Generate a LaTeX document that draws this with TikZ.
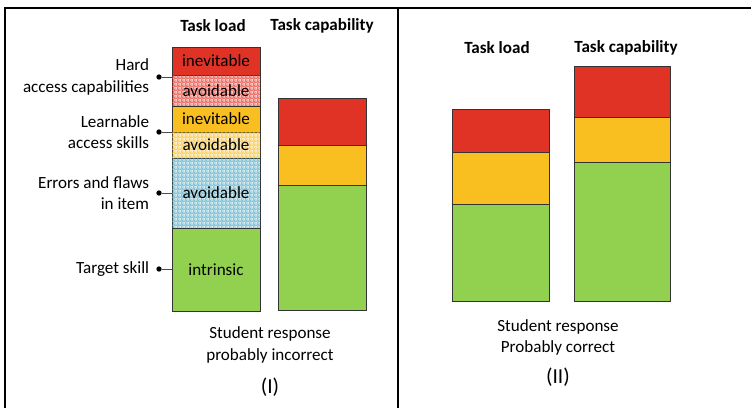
\documentclass[tikz,border=0pt]{standalone}
\usepackage{fontspec}
\setmainfont{Carlito}
\usetikzlibrary{patterns,positioning}

\definecolor{capred}{HTML}{E03326}
\definecolor{caporange}{HTML}{F9BE20}
\definecolor{capgreen}{HTML}{92D050}
\definecolor{capteal}{HTML}{4BACC6}

% small square grid, like the office fill pattern
\pgfdeclarepatternformonly{smallgrid}{\pgfqpoint{0pt}{0pt}}{\pgfqpoint{3.2pt}{3.2pt}}{\pgfqpoint{3.2pt}{3.2pt}}{
  \pgfsetlinewidth{0.4pt}
  \pgfpathrectangle{\pgfqpoint{0.2pt}{0.2pt}}{\pgfqpoint{2.8pt}{2.8pt}}
  \pgfusepath{stroke}
  \pgfpathrectangle{\pgfqpoint{1.1pt}{1.1pt}}{\pgfqpoint{1pt}{1pt}}
  \pgfusepath{fill}
}

\begin{document}
\begin{tikzpicture}[x=0.75pt, y=-0.75pt, every node/.style={font=\fontsize{12.8}{16}\selectfont}]
    \useasboundingbox (0,0) rectangle (751,408);

    \tikzstyle{seg} = [draw=black!80, line width=0.6pt, anchor=north west, inner sep=0pt, outer sep=0pt, minimum width=66pt]
    \tikzstyle{head} = [font=\fontsize{12.8}{16}\selectfont\bfseries]
    \tikzstyle{dot} = [circle, fill=black, inner sep=0pt, minimum size=4pt]
    \tikzstyle{lab} = [align=right, inner sep=0pt, left=5pt of #1]
    \tikzstyle{roman} = [font=\fontsize{16}{18}\selectfont]
    \tikzset{avoid/.style={seg, fill=#1!8, postaction={pattern=smallgrid, pattern color=#1}}}

    % frame
    \draw[line width=1.5pt] (5,408) -- (5,7.5) -- (751,7.5);
    \draw[line width=1.5pt] (398,7.5) -- (398,408);

    % (I) task load
    \node[head] (load1) at (213,26) {Task load};
    \node[seg, fill=capred, minimum height=21pt] (l1) at (172,47) {inevitable};
    \node[avoid=capred, minimum height=23.25pt] (l2) at (l1.south west) {avoidable};
    \node[seg, fill=caporange, minimum height=19.5pt] (l3) at (l2.south west) {inevitable};
    \node[avoid=caporange, minimum height=19.5pt] (l4) at (l3.south west) {avoidable};
    \node[avoid=capteal, minimum height=52.5pt] (l5) at (l4.south west) {avoidable};
    \node[seg, fill=capgreen, minimum height=62.25pt] (l6) at (l5.south west) {intrinsic};

    % (I) task capability
    \node[head] (cap1) at (322,26) {Task capability};
    \node[seg, fill=capred, minimum height=35.25pt] (c1) at (278,98) {};
    \node[seg, fill=caporange, minimum height=30pt] (c2) at (c1.south west) {};
    \node[seg, fill=capgreen, minimum height=93.75pt] (c3) at (c2.south west) {};

    % labels on the left
    \node[dot] (hard) at (159,77) {};
    \node[dot] (learn) at (159,132) {};
    \node[dot] (err) at (159,193) {};
    \node[dot] (target) at (159,269) {};
    \node[lab=hard] {Hard\\access capabilities};
    \node[lab=learn] {Learnable\\access skills};
    \node[lab=err] {Errors and flaws\\in item};
    \node[lab=target] {Target skill};
    \draw[black!70] (hard) -- (hard -| l2.west);
    \draw[black!70] (learn) -- (learn -| l3.west);
    \draw[black!70] (err) -- (err -| l5.west);
    \draw[black!70] (target) -- (target -| l6.west);

    \node[align=center] (resp1) at (270,345) {Student response\\probably incorrect};
    \node[roman] (num1) at (270,387) {(I)};

    % (II)
    \node[head] (load2) at (497,48) {Task load};
    \node[seg, fill=capred, minimum width=72.75pt, minimum height=32.25pt] (m1) at (452,109) {};
    \node[seg, fill=caporange, minimum width=72.75pt, minimum height=39pt] (m2) at (m1.south west) {};
    \node[seg, fill=capgreen, minimum width=72.75pt, minimum height=72.75pt] (m3) at (m2.south west) {};

    \node[head] (cap2) at (626,48) {Task capability};
    \node[seg, fill=capred, minimum width=72pt, minimum height=38.25pt] (d1) at (574,66) {};
    \node[seg, fill=caporange, minimum width=72pt, minimum height=33.75pt] (d2) at (d1.south west) {};
    \node[seg, fill=capgreen, minimum width=72pt, minimum height=104.25pt] (d3) at (d2.south west) {};

    \node[align=center] (resp2) at (558,337.5) {Student response\\Probably correct};
    \node[roman] (num2) at (558,377) {(II)};
\end{tikzpicture}
\end{document}
